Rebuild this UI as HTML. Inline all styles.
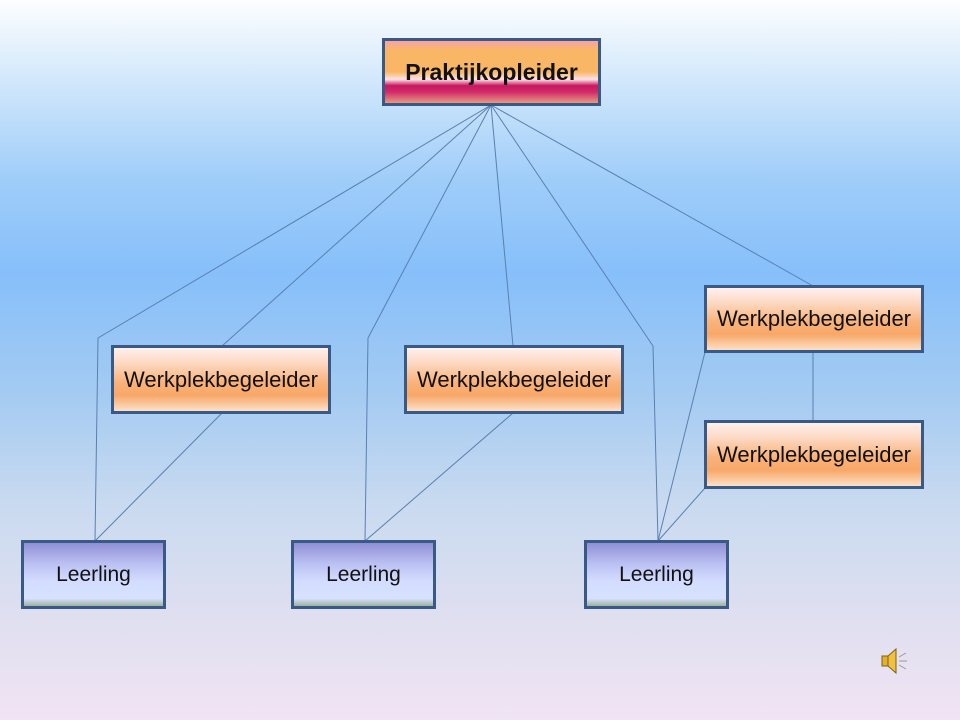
<!DOCTYPE html>
<html><head><style>
body{margin:0;width:960px;height:720px;overflow:hidden;position:relative;font-family:"Liberation Sans",sans-serif;
background:linear-gradient(to bottom,#fdfeff 0%,#cfe6fb 12%,#9fcdf9 25%,#86bffa 38%,#a5cbf2 55%,#c9daf0 70%,#dedff0 85%,#f1e4f3 100%);}
.b{position:absolute;box-sizing:border-box;border:3px solid #3a5a86;display:flex;align-items:center;justify-content:center;font-size:22px;color:#111;}
.w{background:linear-gradient(to bottom,#fff0ee 0%,#fcd8c0 25%,#f9b27a 55%,#f8a868 75%,#fde0c8 100%);}
.l{background:linear-gradient(to bottom,#8f8fd6 0%,#b8bdf0 30%,#d3dcff 60%,#d6e2ff 88%,#9fb0a0 100%);font-size:21px;}
.p{background:linear-gradient(to bottom,#f6a4a8 0%,#f9b766 15%,#f9b766 50%,#fde4e8 62%,#c8185e 72%,#d02a6a 82%,#e89a80 100%);font-weight:bold;font-size:23px;}
svg{position:absolute;left:0;top:0}
</style></head><body>
<svg width="960" height="720"><g stroke="#5a80b0" stroke-width="1" fill="none">
<polyline points="491,105 98,338 95,541"/>
<line x1="491" y1="105" x2="222" y2="346"/>
<polyline points="491,105 368,338 365,541"/>
<line x1="491" y1="105" x2="513" y2="346"/>
<polyline points="491,105 653,346 658,541"/>
<line x1="491" y1="105" x2="813" y2="286"/>
<line x1="222" y1="413" x2="95" y2="541"/>
<line x1="513" y1="413" x2="365" y2="541"/>
<line x1="705" y1="352" x2="658" y2="541"/>
<line x1="813" y1="352" x2="813" y2="421"/>
<line x1="705" y1="488" x2="658" y2="541"/>
</g>
<g transform="translate(882,648)">
<rect x="0" y="8" width="6" height="10" fill="#e0b030" stroke="#806010"/>
<polygon points="6,8 14,1 14,25 6,18" fill="#f0c040" stroke="#806010"/>
<g stroke="#999" stroke-width="1"><line x1="17" y1="9" x2="24" y2="5"/><line x1="17" y1="13" x2="25" y2="13"/><line x1="17" y1="17" x2="24" y2="21"/></g>
</g></svg>
<div class="b p" style="left:382px;top:38px;width:219px;height:68px">Praktijkopleider</div>
<div class="b w" style="left:111px;top:345px;width:220px;height:69px">Werkplekbegeleider</div>
<div class="b w" style="left:404px;top:345px;width:220px;height:69px">Werkplekbegeleider</div>
<div class="b w" style="left:704px;top:285px;width:220px;height:68px">Werkplekbegeleider</div>
<div class="b w" style="left:704px;top:420px;width:220px;height:69px">Werkplekbegeleider</div>
<div class="b l" style="left:21px;top:540px;width:145px;height:69px">Leerling</div>
<div class="b l" style="left:291px;top:540px;width:145px;height:69px">Leerling</div>
<div class="b l" style="left:584px;top:540px;width:145px;height:69px">Leerling</div>
</body></html>
